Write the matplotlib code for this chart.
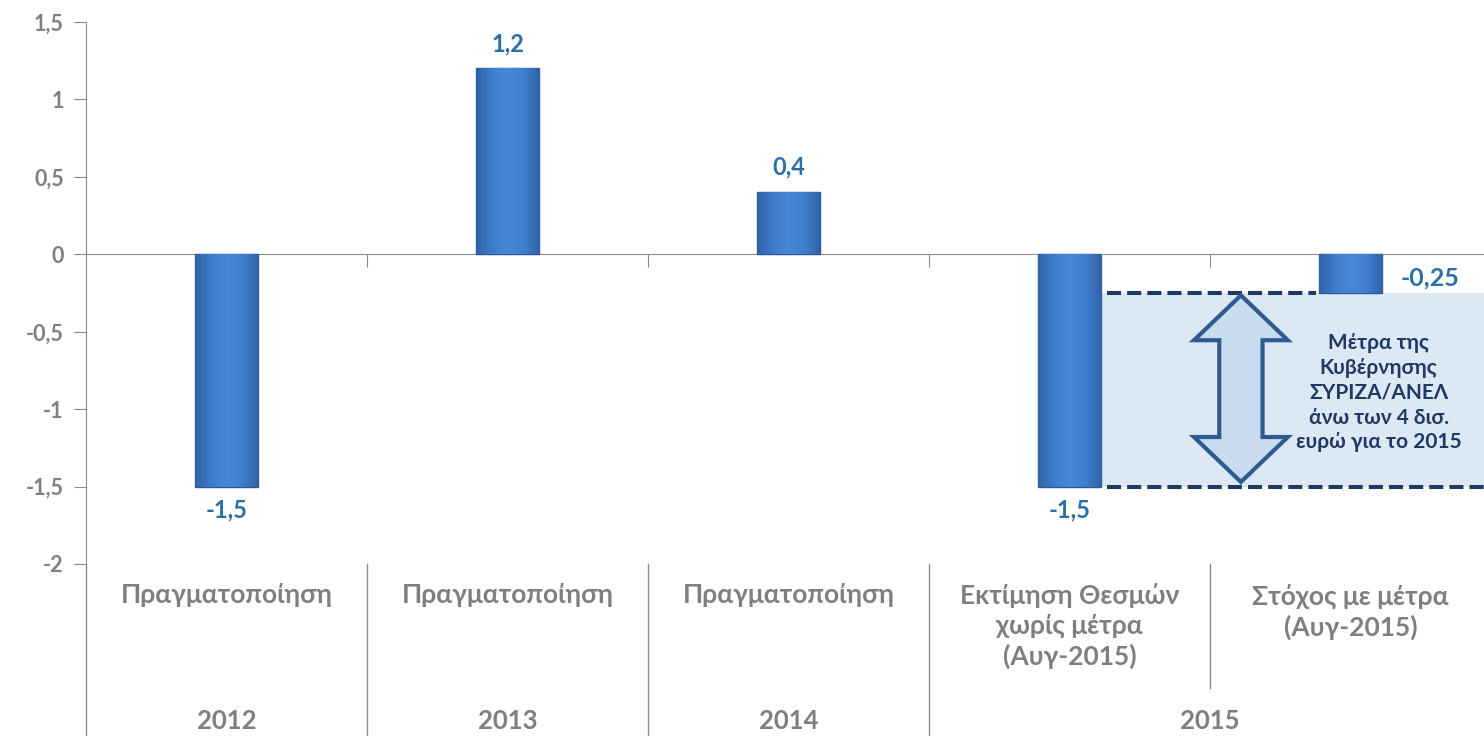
import numpy as np
import matplotlib
matplotlib.use('Agg')
import matplotlib.pyplot as plt
from matplotlib.colors import LinearSegmentedColormap
from matplotlib.patches import Rectangle, Polygon
from matplotlib.ticker import FuncFormatter

plt.rcParams['font.family'] = ['Lato', 'Open Sans', 'DejaVu Sans']

# δεδομένα
labels = ['Πραγματοποίηση', 'Πραγματοποίηση', 'Πραγματοποίηση',
          'Εκτίμηση Θεσμών\nχωρίς μέτρα\n(Αυγ-2015)', 'Στόχος με μέτρα\n(Αυγ-2015)']
values = [-1.5, 1.2, 0.4, -1.5, -0.25]
years = ['2012', '2013', '2014', '2015']
year_pos = [0, 1, 2, 3.5]
yticks = [-2, -1.5, -1, -0.5, 0, 0.5, 1, 1.5]
note = 'Μέτρα της\nΚυβέρνησης\nΣΥΡΙΖΑ/ΑΝΕΛ\nάνω των 4 δισ.\nευρώ για το 2015'

gray = '#8c8c8c'
label_gray = '#7f7f7f'
val_color = '#2b6fa6'
navy = '#1f3864'


def fmt(v):
    return f'{v:g}'.replace('.', ',')


W, H = 1484, 736
fig = plt.figure(figsize=(W / 100, H / 100), dpi=100)
ax = fig.add_axes([86 / W, (H - 564) / H, (W - 86) / W, 542 / H])

x = np.arange(len(values))
bw = 0.225
bars = ax.bar(x, values, width=bw, color='#3d7cc9', edgecolor='#2a5596',
              linewidth=1, zorder=3)

# γραδιέντ στις μπάρες
cmap = LinearSegmentedColormap.from_list(
    'bar', ['#2f62a8', '#3d7dcc', '#4789d7', '#3f7fce', '#2f62a8'])
grad = np.linspace(0, 1, 64).reshape(1, -1)
for p in bars:
    x0, y0 = p.get_x(), p.get_y()
    w, h = p.get_width(), p.get_height()
    im = ax.imshow(grad, extent=[x0, x0 + w, min(y0, y0 + h), max(y0, y0 + h)],
                   aspect='auto', cmap=cmap, zorder=4, interpolation='bicubic')
    im.set_clip_path(p)

xmax = -0.5 + (W - 86) / 281
ax.set_xlim(-0.5, xmax)
ax.set_ylim(-2, 1.5)

# σκιασμένη περιοχή και διακεκομμένες
x_left = 3 + bw / 2
ax.add_patch(Rectangle((x_left, values[3]), xmax - x_left, values[4] - values[3],
                       facecolor='#dce8f4', edgecolor='none', zorder=1))
ax.hlines(values[4], x_left + 0.02, 4 - bw / 2 - 0.01, colors=navy, lw=2.9,
          linestyles=(0, (3.5, 1.5)), zorder=5)
ax.hlines(values[3], x_left + 0.02, xmax, colors=navy, lw=2.9,
          linestyles=(0, (3.5, 1.5)), zorder=5, clip_on=False)

# διπλό βέλος
ax_c = 3.61
top, bot = values[4] - 0.015, values[3] + 0.03
hw, sw, hl = 0.167, 0.077, 0.29
arrow = [(ax_c, top), (ax_c + hw, top - hl), (ax_c + sw, top - hl),
         (ax_c + sw, bot + hl), (ax_c + hw, bot + hl), (ax_c, bot),
         (ax_c - hw, bot + hl), (ax_c - sw, bot + hl), (ax_c - sw, top - hl),
         (ax_c - hw, top - hl)]
ax.add_patch(Polygon(arrow, closed=True, facecolor='#c9dbef',
                     edgecolor='#2f5a91', lw=3, joinstyle='miter', zorder=6))

ax.text(4.1, (values[3] + values[4]) / 2 - 0.02, note, ha='center', va='center',
        fontsize=15, fontweight='bold', color=navy, linespacing=1.3, zorder=7)

# ετικέτες τιμών
for i, v in enumerate(values):
    if i == 4:
        ax.annotate(fmt(v), (i + bw / 2, v / 2), xytext=(13, -3),
                    textcoords='offset points', ha='left', va='center',
                    fontsize=18, fontweight='bold', color=val_color)
    else:
        off = 18 if v > 0 else -17
        ax.annotate(fmt(v), (i, v), xytext=(0, off), textcoords='offset points',
                    ha='center', va='center', fontsize=17, fontweight='bold',
                    color=val_color)

# άξονες
for s in ['top', 'right']:
    ax.spines[s].set_visible(False)
ax.spines['bottom'].set_position(('data', 0))
ax.spines['bottom'].set_color(gray)
ax.spines['left'].set_color(gray)
ax.set_xticks([0.5, 1.5, 2.5, 3.5])
ax.set_xticklabels([])
ax.tick_params(axis='x', length=9, color=gray, direction='out')
ax.set_yticks(yticks)
ax.yaxis.set_major_formatter(FuncFormatter(lambda v, _: fmt(v)))
ax.tick_params(axis='y', length=9, color=gray, pad=7, labelsize=15.5,
               labelcolor=label_gray)
for t in ax.get_yticklabels():
    t.set_fontweight('bold')

# κατηγορίες κάτω από τον άξονα
tr = ax.get_xaxis_transform()
for i, lab in enumerate(labels):
    ax.annotate(lab, (i, 0), xycoords=tr, xytext=(0, -14), textcoords='offset points',
                ha='center', va='top', fontsize=19, fontweight='bold',
                color=label_gray, linespacing=1.27, annotation_clip=False)
for yr, xp in zip(years, year_pos):
    ax.annotate(yr, (xp, 0), xycoords=tr, xytext=(0, -113), textcoords='offset points',
                ha='center', va='center', fontsize=18.5, fontweight='bold',
                color=label_gray, annotation_clip=False)

bottom = -(H - 564) / 542
for xs in [-0.5, 0.5, 1.5, 2.5]:
    ax.plot([xs, xs], [0, bottom], transform=tr, color=gray, lw=1, clip_on=False)
ax.plot([3.5, 3.5], [0, -(688 - 564) / 542], transform=tr, color=gray, lw=1,
        clip_on=False)

fig.savefig('out.png', dpi=100)
